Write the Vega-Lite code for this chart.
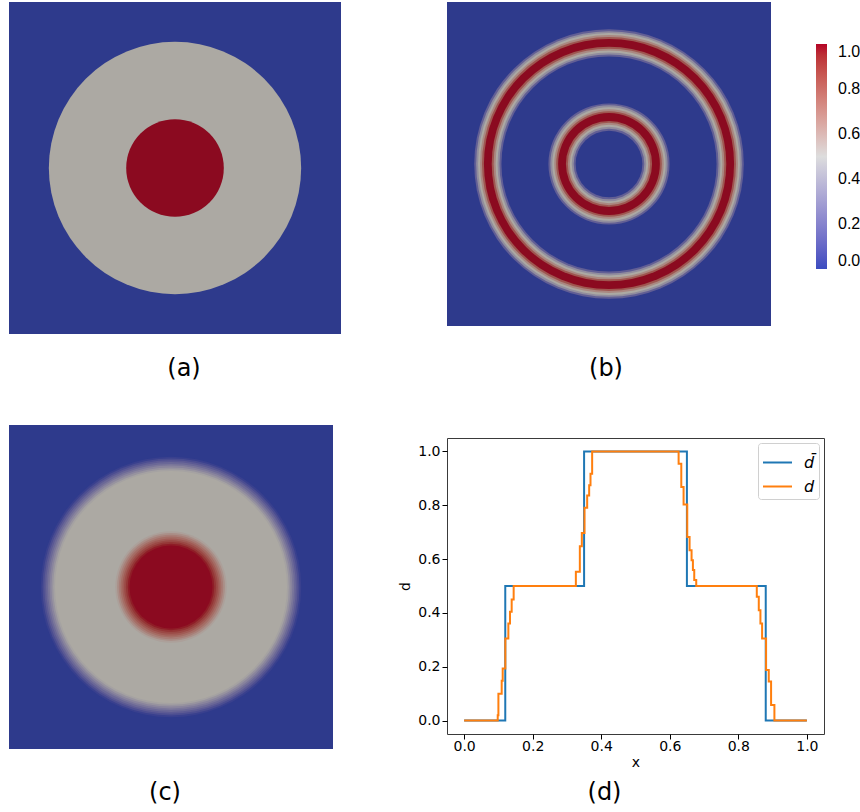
{
  "$schema": "https://vega.github.io/schema/vega-lite/v6.json",
  "padding": {"left": 9, "top": 2, "right": 5, "bottom": 5},
  "background": "white",
  "config": {
    "font": "DejaVu Sans",
    "view": {"stroke": null},
    "title": {"font": "DejaVu Sans", "fontSize": 24, "fontWeight": "normal", "color": "#000"}
  },
  "spacing": 57,
  "resolve": {
    "scale": {"size": "independent", "fill": "independent", "color": "independent", "stroke": "independent"},
    "legend": {"color": "independent", "fill": "independent", "size": "independent", "stroke": "independent"}
  },
  "hconcat": [
    {
      "spacing": 44,
      "resolve": {
        "scale": {"size": "independent", "fill": "independent", "color": "independent", "stroke": "independent"},
        "legend": {"color": "independent", "fill": "independent", "size": "independent", "stroke": "independent"}
      },
      "vconcat": [
        {
          "width": 332,
          "height": 332,
          "view": {"fill": "#2e3a8c", "stroke": null},
          "title": {"text": "(a)", "orient": "bottom", "anchor": "middle", "frame": "group", "baseline": "top", "offset": 23, "dx": 9},
          "data": {"values": [
            {"r": 0.38, "v": 0.5},
            {"r": 0.147, "v": 1}
          ]},
          "mark": {"type": "point", "shape": "circle", "filled": true, "opacity": 1, "strokeWidth": 0},
          "encoding": {
            "size": {"field": "r", "type": "quantitative", "scale": {"type": "pow", "exponent": 2, "domain": [0, 0.5], "range": [0, 110224], "zero": true}, "legend": null},
            "fill": {"field": "v", "type": "quantitative", "scale": {"domain": [1, 0.5, 0], "range": ["#8b0a20", "#aca9a3", "#2e3a8c"], "interpolate": "lab"}, "legend": null}
          }
        },
        {
          "width": 324,
          "height": 324,
          "view": {"fill": "#2e3a8c", "stroke": null},
          "title": {"text": "(c)", "orient": "bottom", "anchor": "middle", "frame": "group", "baseline": "top", "offset": 32, "dx": -6},
          "data": {"values": [
            {"r": 0.402, "v": 0.031},
            {"r": 0.3965, "v": 0.094},
            {"r": 0.391, "v": 0.156},
            {"r": 0.3855, "v": 0.219},
            {"r": 0.38, "v": 0.281},
            {"r": 0.3745, "v": 0.344},
            {"r": 0.369, "v": 0.406},
            {"r": 0.3635, "v": 0.469},
            {"r": 0.358, "v": 0.5},
            {"r": 0.172, "v": 0.531},
            {"r": 0.1665, "v": 0.594},
            {"r": 0.161, "v": 0.656},
            {"r": 0.1555, "v": 0.719},
            {"r": 0.15, "v": 0.781},
            {"r": 0.1445, "v": 0.844},
            {"r": 0.139, "v": 0.906},
            {"r": 0.1335, "v": 0.969},
            {"r": 0.128, "v": 1}
          ]},
          "mark": {"type": "point", "shape": "circle", "filled": true, "opacity": 1, "strokeWidth": 0},
          "encoding": {
            "size": {"field": "r", "type": "quantitative", "scale": {"type": "pow", "exponent": 2, "domain": [0, 0.5], "range": [0, 104976], "zero": true}, "legend": null},
            "fill": {"field": "v", "type": "quantitative", "scale": {"domain": [1, 0.5, 0], "range": ["#8b0a20", "#aca9a3", "#2e3a8c"], "interpolate": "lab"}, "legend": null}
          }
        }
      ]
    },
    {
      "spacing": 56,
      "resolve": {
        "scale": {"size": "independent", "fill": "independent", "color": "independent", "stroke": "independent"},
        "legend": {"color": "independent", "fill": "independent", "size": "independent", "stroke": "independent"}
      },
      "vconcat": [
        {
          "width": 324,
          "height": 324,
          "view": {"fill": "#2e3a8c", "stroke": null},
          "title": {"text": "(b)", "orient": "bottom", "anchor": "middle", "frame": "group", "baseline": "top", "offset": 31, "dx": -3},
          "data": {"values": [
            {"r": 0.416, "v": 0.18},
            {"r": 0.41, "v": 0.38},
            {"r": 0.404, "v": 0.5},
            {"r": 0.398, "v": 0.62},
            {"r": 0.392, "v": 0.8},
            {"r": 0.386, "v": 1},
            {"r": 0.362, "v": 0.8},
            {"r": 0.356, "v": 0.62},
            {"r": 0.35, "v": 0.5},
            {"r": 0.344, "v": 0.38},
            {"r": 0.338, "v": 0.18},
            {"r": 0.332, "v": 0},
            {"r": 0.187, "v": 0.18},
            {"r": 0.181, "v": 0.38},
            {"r": 0.175, "v": 0.5},
            {"r": 0.169, "v": 0.62},
            {"r": 0.163, "v": 0.8},
            {"r": 0.157, "v": 1},
            {"r": 0.133, "v": 0.8},
            {"r": 0.127, "v": 0.62},
            {"r": 0.121, "v": 0.5},
            {"r": 0.115, "v": 0.38},
            {"r": 0.109, "v": 0.18},
            {"r": 0.103, "v": 0}
          ]},
          "mark": {"type": "point", "shape": "circle", "filled": true, "opacity": 1, "strokeWidth": 0},
          "encoding": {
            "size": {"field": "r", "type": "quantitative", "scale": {"type": "pow", "exponent": 2, "domain": [0, 0.5], "range": [0, 104976], "zero": true}, "legend": null},
            "fill": {"field": "v", "type": "quantitative", "scale": {"domain": [1, 0.5, 0], "range": ["#8b0a20", "#aca9a3", "#2e3a8c"], "interpolate": "lab"}, "legend": null},
            "stroke": {
              "field": "v", "type": "quantitative",
              "scale": {"domain": [0, 0.5, 1], "range": ["#3b4cc0", "#dddddd", "#b40426"], "interpolate": "lab"},
              "legend": {
                "title": null, "orient": "none", "legendX": 369, "legendY": 42,
                "direction": "vertical", "gradientLength": 225, "gradientThickness": 11,
                "values": [0, 0.2, 0.4, 0.6, 0.8, 1], "format": ".1f",
                "labelFont": "Liberation Sans", "labelFontSize": 16, "labelColor": "#000",
                "labelOffset": 11, "labelBaseline": "middle", "labelOverlap": false
              }
            }
          }
        },
        {
          "width": 377,
          "height": 296,
          "view": {"stroke": "#3a3a3a", "strokeWidth": 1, "fill": null},
          "title": {"text": "(d)", "orient": "bottom", "anchor": "middle", "frame": "group", "baseline": "top", "offset": 12, "dx": -31},
          "data": {"values": [
            {"x": 0, "d": 0, "s": "d̄"},
            {"x": 0.12, "d": 0.5, "s": "d̄"},
            {"x": 0.35, "d": 1, "s": "d̄"},
            {"x": 0.65, "d": 0.5, "s": "d̄"},
            {"x": 0.88, "d": 0, "s": "d̄"},
            {"x": 1, "d": 0, "s": "d̄"},
            {"x": 0, "d": 0, "s": "d"},
            {"x": 0.098, "d": 0.02, "s": "d"},
            {"x": 0.1, "d": 0.1, "s": "d"},
            {"x": 0.1096, "d": 0.148, "s": "d"},
            {"x": 0.1125, "d": 0.193, "s": "d"},
            {"x": 0.1202, "d": 0.305, "s": "d"},
            {"x": 0.129, "d": 0.361, "s": "d"},
            {"x": 0.1338, "d": 0.404, "s": "d"},
            {"x": 0.1387, "d": 0.45, "s": "d"},
            {"x": 0.1445, "d": 0.5, "s": "d"},
            {"x": 0.326, "d": 0.553, "s": "d"},
            {"x": 0.3376, "d": 0.648, "s": "d"},
            {"x": 0.3434, "d": 0.697, "s": "d"},
            {"x": 0.3512, "d": 0.791, "s": "d"},
            {"x": 0.359, "d": 0.836, "s": "d"},
            {"x": 0.3648, "d": 0.874, "s": "d"},
            {"x": 0.3687, "d": 0.917, "s": "d"},
            {"x": 0.3735, "d": 1, "s": "d"},
            {"x": 0.6258, "d": 0.954, "s": "d"},
            {"x": 0.6336, "d": 0.868, "s": "d"},
            {"x": 0.6403, "d": 0.803, "s": "d"},
            {"x": 0.651, "d": 0.682, "s": "d"},
            {"x": 0.6578, "d": 0.633, "s": "d"},
            {"x": 0.6636, "d": 0.596, "s": "d"},
            {"x": 0.6675, "d": 0.559, "s": "d"},
            {"x": 0.6714, "d": 0.522, "s": "d"},
            {"x": 0.6772, "d": 0.5, "s": "d"},
            {"x": 0.8539, "d": 0.46, "s": "d"},
            {"x": 0.8597, "d": 0.41, "s": "d"},
            {"x": 0.8645, "d": 0.361, "s": "d"},
            {"x": 0.8694, "d": 0.305, "s": "d"},
            {"x": 0.881, "d": 0.188, "s": "d"},
            {"x": 0.8888, "d": 0.145, "s": "d"},
            {"x": 0.8956, "d": 0.058, "s": "d"},
            {"x": 0.9053, "d": 0, "s": "d"},
            {"x": 1, "d": 0, "s": "d"}
          ]},
          "mark": {"type": "line", "interpolate": "step-after", "strokeWidth": 2},
          "encoding": {
            "x": {
              "field": "x", "type": "quantitative",
              "scale": {"domain": [-0.05, 1.05], "nice": false, "zero": false},
              "axis": {
                "values": [0, 0.2, 0.4, 0.6, 0.8, 1], "format": ".1f", "grid": false, "domain": false,
                "tickSize": 5, "tickColor": "#000", "labelFont": "DejaVu Sans", "labelFontSize": 14,
                "labelColor": "#000", "labelPadding": 0, "labelFlush": false,
                "title": "x", "titleFont": "DejaVu Sans", "titleFontSize": 14, "titleFontWeight": "normal",
                "titleColor": "#000", "titlePadding": 2
              }
            },
            "y": {
              "field": "d", "type": "quantitative",
              "scale": {"domain": [-0.05, 1.05], "nice": false, "zero": false},
              "axis": {
                "values": [0, 0.2, 0.4, 0.6, 0.8, 1], "format": ".1f", "grid": false, "domain": false,
                "tickSize": 5, "tickColor": "#000", "labelFont": "DejaVu Sans", "labelFontSize": 14,
                "labelColor": "#000", "labelPadding": 2, "labelFlush": false,
                "title": "d", "titleFont": "DejaVu Sans", "titleFontSize": 14, "titleFontWeight": "normal",
                "titleColor": "#000", "titlePadding": 5
              }
            },
            "color": {
              "field": "s", "type": "nominal",
              "scale": {"domain": ["d̄", "d"], "range": ["#1f77b4", "#ff7f0e"]},
              "legend": {
                "title": null, "orient": "top-right", "offset": 5,
                "symbolType": "stroke", "symbolStrokeWidth": 2, "symbolSize": 841,
                "labelFont": "DejaVu Sans", "labelFontSize": 16, "labelFontStyle": "italic", "labelColor": "#000",
                "strokeColor": "#d0d0d0", "cornerRadius": 3, "padding": 4, "rowPadding": -7,
                "labelOffset": 11, "fillColor": "white"
              }
            }
          }
        }
      ]
    }
  ]
}
